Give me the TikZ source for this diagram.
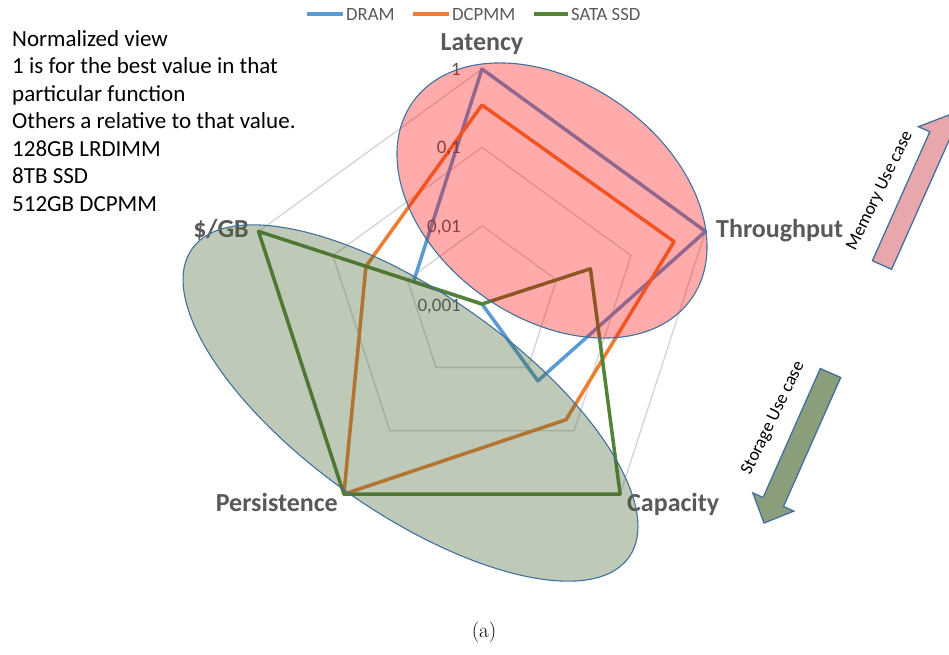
\documentclass[tikz,border=0pt]{standalone}
\usepackage{fontspec}
\newfontfamily\carl{Carlito}
\definecolor{axgray}{HTML}{595959}
\definecolor{gridc}{HTML}{D4D4D4}
\definecolor{dramc}{HTML}{5B9BD5}
\definecolor{dcpmmc}{HTML}{ED7D31}
\definecolor{ssdc}{HTML}{548235}
\definecolor{edgec}{HTML}{41719C}
\definecolor{memfill}{HTML}{E8A7AA}
\definecolor{stofill}{HTML}{8A9E7B}
\definecolor{greenell}{HTML}{456531}
\begin{document}
\begin{tikzpicture}[x=1pt,y=-1pt,
  axlabel/.style={font=\carl\bfseries\fontsize{26}{30}\selectfont, text=axgray, inner sep=0},
  ticklabel/.style={font=\carl\fontsize{19}{22}\selectfont, text=axgray, inner sep=0},
  legtext/.style={font=\carl\fontsize{18.7}{22}\selectfont, text=axgray, inner sep=0, anchor=base west},
  notetext/.style={font=\carl\fontsize{23}{27.5}\selectfont, text=black, inner sep=0, anchor=base west},
  usetext/.style={font=\carl\fontsize{18}{21}\selectfont, text=black, inner sep=0, rotate=64},
  gridline/.style={draw=gridc, line width=1.3pt},
  series/.style={line width=3.5pt, line join=round},
  ell/.style={draw=edgec, line width=1.1pt},
  blockarrow/.style={draw=edgec, line width=1.3pt, line join=miter}]
\useasboundingbox (0,0) rectangle (949,654);

% legend
\draw[series, dramc] (307,14) -- (343,14);
\node[legtext] (lgA) at (346,20) {DRAM};
\draw[series, dcpmmc] (413,14) -- (449,14);
\node[legtext] (lgB) at (452,20) {DCPMM};
\draw[series, ssdc] (534,14) -- (568,14);
\node[legtext] (lgC) at (571,20) {SATA SSD};

% note text
\node[notetext] (n1) at (12,46) {Normalized view};
\node[notetext] (n2) at (12,73.5) {1 is for the best value in that};
\node[notetext] (n3) at (12,101) {particular function};
\node[notetext] (n4) at (12,128.5) {Others a relative to that value.};
\node[notetext] (n5) at (12,156) {128GB LRDIMM};
\node[notetext] (n6) at (12,183.5) {8TB SSD};
\node[notetext] (n7) at (12,211) {512GB DCPMM};

% radar chart
\begin{scope}[shift={(482,304)}, yscale=-1]
  \foreach \r in {78.3,156.7,235}
    \draw[gridline] (90:\r) -- (18:\r) -- (-54:\r) -- (-126:\r) -- (162:\r) -- cycle;
  \coordinate (ctr) at (0,0);
  % DRAM
  \coordinate (dL) at (90:235);
  \coordinate (dT) at (18:235);
  \coordinate (dC) at (-54:95);
  \coordinate (dP) at (0,0);
  \coordinate (dG) at (162:72);
  % DCPMM
  \coordinate (oL) at (90:199);
  \coordinate (oT) at (18:202);
  \coordinate (oC) at (-54:143);
  \coordinate (oP) at (-126:235);
  \coordinate (oG) at (162:122);
  % SSD
  \coordinate (gL) at (0,0);
  \coordinate (gT) at (18:114);
  \coordinate (gC) at (-54:235);
  \coordinate (gP) at (-126:235);
  \coordinate (gG) at (162:235);
  \draw[series, dramc] (dL) -- (dT) -- (dC) -- (dP) -- (dG) -- cycle;
  \draw[series, dcpmmc] (oL) -- (oT) -- (oC) -- (oP) -- (oG) -- cycle;
  \draw[series, ssdc] (gL) -- (gT) -- (gC) -- (gP) -- (gG) -- cycle;
\end{scope}

% tick labels
\node[ticklabel, anchor=base east] (t1) at (461,75) {1};
\node[ticklabel, anchor=base east] (t2) at (461,153) {0,1};
\node[ticklabel, anchor=base east] (t3) at (461,232) {0,01};
\node[ticklabel, anchor=base east] (t4) at (461,311) {0,001};

% axis labels
\node[axlabel, anchor=base] (aLat) at (482,50) {Latency};
\node[axlabel, anchor=base west] (aThr) at (716,237) {Throughput};
\node[axlabel, anchor=base west] (aCap) at (627,511) {Capacity};
\node[axlabel, anchor=base east] (aPer) at (338,511) {Persistence};
\node[axlabel, anchor=base east] (aGB) at (249,237) {\$/GB};

% overlay ellipses
\draw[ell, fill=greenell, fill opacity=0.35, rotate around={-35.2:(410.5,403)}] (410.5,403) ellipse [x radius=267.4, y radius=109.3];
\draw[ell, fill=red, fill opacity=0.33, rotate around={-35.2:(552,200.5)}] (552,200.5) ellipse [x radius=170.5, y radius=117.8];

% use case arrows
\draw[blockarrow, fill=memfill] (872.4,260.7) -- (929.8,131.8) -- (918.4,126.7) -- (948.7,115.1) -- (960.4,145.5) -- (949.0,140.4) -- (891.6,269.3) -- cycle;
\node[usetext] (memtxt) at (880,191) {Memory Use case};
\draw[blockarrow, fill=stofill] (840.7,377.5) -- (783.5,506.5) -- (793.8,511.1) -- (764,523) -- (752.8,492.9) -- (763.1,497.5) -- (820.3,368.5) -- cycle;
\node[usetext] (stotxt) at (773.3,418.3) {Storage Use case};

% caption
\node[font=\fontsize{21}{25}\selectfont, inner sep=0] (cap) at (484,632) {(a)};
\end{tikzpicture}
\end{document}
